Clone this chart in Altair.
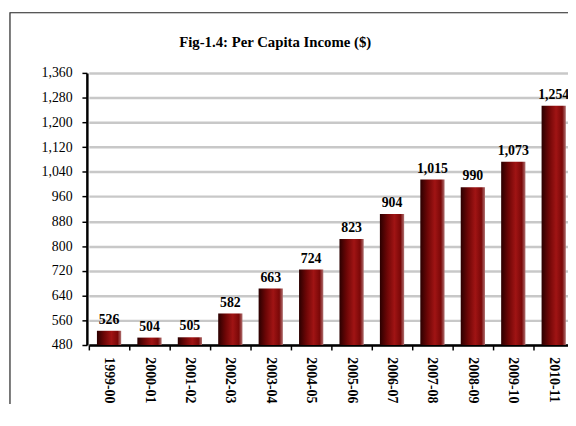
import altair as alt
import pandas as pd

years = ["1999-00", "2000-01", "2001-02", "2002-03", "2003-04", "2004-05",
         "2005-06", "2006-07", "2007-08", "2008-09", "2009-10", "2010-11"]
income = [526, 504, 505, 582, 663, 724, 823, 904, 1015, 990, 1073, 1254]
y_ticks = list(range(480, 1361, 80))
title_text = "Fig-1.4: Per Capita Income ($)"

df = pd.DataFrame({"year": years, "income": income})

FONT = "Liberation Serif"

xscale = alt.Scale(domain=years, range=[2, 494], paddingInner=0.4, paddingOuter=0.2)
yscale = alt.Scale(domain=[480, 1360], zero=False, nice=False)

frame = alt.Chart(pd.DataFrame({"a": [0]})).mark_rect(
    fill=None, stroke="#222222", strokeWidth=1.2, clip=False
).encode(
    x=alt.value(-78), x2=alt.value(700), y=alt.value(-61), y2=alt.value(600)
)

title = alt.Chart(pd.DataFrame({"t": [title_text]})).mark_text(
    font=FONT, fontSize=15, fontWeight="bold", color="black", align="center", baseline="middle"
).encode(
    x=alt.value(191), y=alt.value(-31), text="t:N"
)

bars = alt.Chart().mark_bar(
    color=alt.Gradient(
        gradient="linear", x1=0, x2=1, y1=0, y2=0,
        stops=[
            alt.GradientStop(color="#2a0000", offset=0),
            alt.GradientStop(color="#6e0606", offset=0.3),
            alt.GradientStop(color="#a01414", offset=0.6),
            alt.GradientStop(color="#7a0808", offset=0.85),
            alt.GradientStop(color="#b07070", offset=1),
        ],
    )
).encode(y2=alt.datum(480))

labels = alt.Chart().mark_text(
    dy=-4, font=FONT, fontWeight="bold", fontSize=14, color="black", baseline="bottom"
).encode(text=alt.Text("income:Q", format=",d"))

data_layers = alt.layer(bars, labels, data=df).encode(
    x=alt.X("year:N", scale=xscale, sort=years, title=None,
            axis=alt.Axis(labelAngle=90, labelFont=FONT, labelFontWeight="bold",
                          labelFontSize=14, labelColor="black", labelPadding=7,
                          domainColor="black", domainWidth=2.5, tickColor="black",
                          bandPosition=-0.33, tickSize=5, tickWidth=1.5, grid=False)),
    y=alt.Y("income:Q", scale=yscale, title=None,
            axis=alt.Axis(values=y_ticks, format=",d", labelFont=FONT, labelFontSize=14,
                          labelColor="black", domainColor="black", domainWidth=2.5,
                          tickColor="black", tickSize=5, tickWidth=1.5, grid=True,
                          gridColor="#c8c8c8", gridWidth=2.5, labelPadding=10)),
)

chart = alt.layer(frame, title, data_layers).properties(
    width=488, height=276,
    autosize=alt.AutoSizeParams(type="none"),
    padding={"left": 80, "top": 63, "right": 0, "bottom": 57},
).configure_view(stroke=None)

chart.save("out.html", embed_options={"renderer": "svg", "actions": False})
